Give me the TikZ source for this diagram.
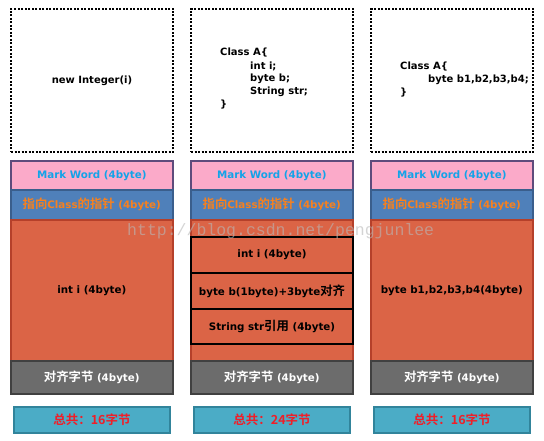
\documentclass[tikz,border=0pt]{standalone}
\usepackage{fontspec}
\setmainfont{DejaVu Sans}
\newfontfamily\cjk{Noto Sans CJK SC}[BoldFont={Noto Sans CJK SC Bold},Scale=1.2]
\newfontfamily\cjktot{Noto Sans CJK SC}[BoldFont={Noto Sans CJK SC Bold}]
\newfontfamily\wmfont{Liberation Mono}
\newcommand\zh[1]{{\cjk #1}}
\definecolor{pinkfill}{HTML}{FBAAC9}
\definecolor{pinkline}{HTML}{5E4B7C}
\definecolor{bluefill}{HTML}{4F80BA}
\definecolor{blueline}{HTML}{3A5E8C}
\definecolor{ptrtext}{HTML}{F7801E}
\definecolor{marktext}{HTML}{12A3E8}
\definecolor{bodyfill}{HTML}{DB6446}
\definecolor{bodyline}{HTML}{B5402A}
\definecolor{padfill}{HTML}{6C6C6C}
\definecolor{padline}{HTML}{404040}
\definecolor{totfill}{HTML}{4BACC6}
\definecolor{totline}{HTML}{31849B}
\definecolor{tottext}{HTML}{F01E28}
\definecolor{wmcol}{HTML}{B8B8B8}
\begin{document}
\begin{tikzpicture}[x=1pt,y=-1pt,
  font=\fontsize{10.3}{12}\selectfont\bfseries,
  box/.style={draw, line width=1.6pt, minimum width=162pt, inner sep=0pt, anchor=north west},
  codebox/.style={box, draw=black, line width=2pt, dash pattern=on 2pt off 1.5pt, minimum height=143pt},
  codeline/.style={anchor=west, inner sep=0pt, text=black, font=\fontsize{10}{12}\selectfont\bfseries},
  markbox/.style={box, fill=pinkfill, draw=pinkline, text=marktext, minimum height=29pt},
  ptrbox/.style={box, fill=bluefill, draw=blueline, text=ptrtext, minimum height=30pt},
  bodybox/.style={box, fill=bodyfill, draw=bodyline, text=black, minimum height=141pt},
  slotbox/.style={box, fill=bodyfill, draw=black, line width=2pt, text=black},
  padbox/.style={box, fill=padfill, draw=padline, text=white, minimum height=33pt},
  totbox/.style={box, fill=totfill, draw=totline, line width=2pt, text=tottext, minimum width=156pt, minimum height=26pt, font=\fontsize{12.5}{14}\selectfont\bfseries\cjktot},
  watermark/.style={anchor=west, inner sep=0pt, text=wmcol, opacity=0.6, font=\fontsize{16.5}{18}\selectfont\wmfont}
]
\useasboundingbox (0,0) rectangle (544,441);

% column 1
\node[codebox] (a-code) at (10,8) {};
\node[codeline, anchor=center] (a-new) at (a-code.center) {new Integer(i)};
\node[markbox] (a-mark) at (10,160) {Mark Word (4byte)};
\node[ptrbox] (a-ptr) at (10,189) {\zh{指向}Class\zh{的指针} (4byte)};
\node[bodybox] (a-body) at (10,219) {int i (4byte)};
\node[padbox] (a-pad) at (10,360) {\zh{对齐字节} (4byte)};
\node[totbox] (a-tot) at (13,406) {总共：16字节};

% column 2
\node[codebox] (b-code) at (190,8) {};
\node[codeline] (b-l1) at (220,53) {Class A\{};
\node[codeline] (b-l2) at (250,66) {int i;};
\node[codeline] (b-l3) at (250,79) {byte b;};
\node[codeline] (b-l4) at (250,92) {String str;};
\node[codeline] (b-l5) at (220,105) {\}};
\node[markbox] (b-mark) at (190,160) {Mark Word (4byte)};
\node[ptrbox] (b-ptr) at (190,189) {\zh{指向}Class\zh{的指针} (4byte)};
\node[bodybox] (b-body) at (190,219) {};
\node[slotbox, minimum height=36pt] (b-s1) at (190,236) {int i (4byte)};
\node[slotbox, minimum height=36pt] (b-s2) at (190,272) {byte b(1byte)+3byte\zh{对齐}};
\node[slotbox, minimum height=35pt] (b-s3) at (190,308) {String str\zh{引用} (4byte)};
\node[padbox] (b-pad) at (190,360) {\zh{对齐字节} (4byte)};
\node[totbox] (b-tot) at (193,406) {总共：24字节};

% column 3
\node[codebox] (c-code) at (370,8) {};
\node[codeline] (c-l1) at (400,67) {Class A\{};
\node[codeline] (c-l2) at (428,80) {byte b1,b2,b3,b4;};
\node[codeline] (c-l3) at (400,93) {\}};
\node[markbox] (c-mark) at (370,160) {Mark Word (4byte)};
\node[ptrbox] (c-ptr) at (370,189) {\zh{指向}Class\zh{的指针} (4byte)};
\node[bodybox] (c-body) at (370,219) {byte b1,b2,b3,b4(4byte)};
\node[padbox] (c-pad) at (370,360) {\zh{对齐字节} (4byte)};
\node[totbox] (c-tot) at (373,406) {总共：16字节};

% watermark
\node[watermark] (wmark) at (127,231) {http://blog.csdn.net/pengjunlee};
\end{tikzpicture}
\end{document}
